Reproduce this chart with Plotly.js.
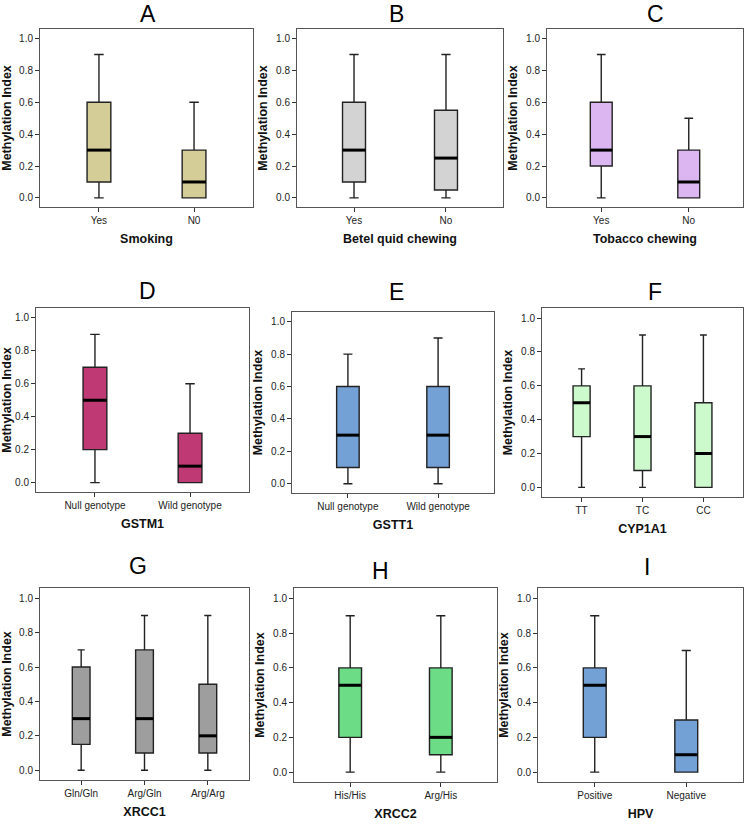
<!DOCTYPE html>
<html>
<head>
<meta charset="utf-8">
<script src="https://cdn.plot.ly/plotly-3.0.1.min.js"></script>
<style>html,body{margin:0;padding:0;background:#fff;}#chart{width:747px;height:828px;}</style>
</head>
<body>
<div id="chart"></div>
<script>
// ---------- DATA ----------
const panelLetters = ['A','B','C','D','E','F','G','H','I'];
const panelTitles = ['Smoking','Betel quid chewing','Tobacco chewing','GSTM1','GSTT1','CYP1A1','XRCC1','XRCC2','HPV'];

const smokingCats = ['Yes','N0'];
const smokingLow  = [0, 0];
const smokingQ1   = [0.1, 0];
const smokingMed  = [0.3, 0.1];
const smokingQ3   = [0.6, 0.3];
const smokingHigh = [0.9, 0.6];

const betelCats = ['Yes','No'];
const betelLow  = [0, 0];
const betelQ1   = [0.1, 0.05];
const betelMed  = [0.3, 0.25];
const betelQ3   = [0.6, 0.55];
const betelHigh = [0.9, 0.9];

const tobaccoCats = ['Yes','No'];
const tobaccoLow  = [0, 0];
const tobaccoQ1   = [0.2, 0];
const tobaccoMed  = [0.3, 0.1];
const tobaccoQ3   = [0.6, 0.3];
const tobaccoHigh = [0.9, 0.5];

const gstm1Cats = ['Null genotype','Wild genotype'];
const gstm1Low  = [0, 0];
const gstm1Q1   = [0.2, 0];
const gstm1Med  = [0.5, 0.1];
const gstm1Q3   = [0.7, 0.3];
const gstm1High = [0.9, 0.6];

const gstt1Cats = ['Null genotype','Wild genotype'];
const gstt1Low  = [0, 0];
const gstt1Q1   = [0.1, 0.1];
const gstt1Med  = [0.3, 0.3];
const gstt1Q3   = [0.6, 0.6];
const gstt1High = [0.8, 0.9];

const cyp1a1Cats = ['TT','TC','CC'];
const cyp1a1Low  = [0, 0, 0];
const cyp1a1Q1   = [0.3, 0.1, 0];
const cyp1a1Med  = [0.5, 0.3, 0.2];
const cyp1a1Q3   = [0.6, 0.6, 0.5];
const cyp1a1High = [0.7, 0.9, 0.9];

const xrcc1Cats = ['Gln/Gln','Arg/Gln','Arg/Arg'];
const xrcc1Low  = [0, 0, 0];
const xrcc1Q1   = [0.15, 0.1, 0.1];
const xrcc1Med  = [0.3, 0.3, 0.2];
const xrcc1Q3   = [0.6, 0.7, 0.5];
const xrcc1High = [0.7, 0.9, 0.9];

const xrcc2Cats = ['His/His','Arg/His'];
const xrcc2Low  = [0, 0];
const xrcc2Q1   = [0.2, 0.1];
const xrcc2Med  = [0.5, 0.2];
const xrcc2Q3   = [0.6, 0.6];
const xrcc2High = [0.9, 0.9];

const hpvCats = ['Positive','Negative'];
const hpvLow  = [0, 0];
const hpvQ1   = [0.2, 0];
const hpvMed  = [0.5, 0.1];
const hpvQ3   = [0.6, 0.3];
const hpvHigh = [0.9, 0.7];

const yTickVals = [0, 0.2, 0.4, 0.6, 0.8, 1.0];
const yTickText = ['0.0','0.2','0.4','0.6','0.8','1.0'];
const yAxisTitle = 'Methylation Index';

// ---------- STYLE / LAYOUT ----------
const W = 747, H = 828;
const fills = ['#d4cd97','#d3d3d3','#dcb6f0','#bf3a74','#73a1d5','#ccfacc','#9e9e9e','#6cdc86','#73a1d5'];
// plot-area pixel boxes [left, right, top, bottom]
const boxes = [
  [40,253,29,207],[297,503,29,207],[547,743,29,207],
  [36,249,308,492],[292,494,312,493],[542,743,308,497],
  [40,249,588,780],[294,497,588,782],[538,743,588,782]
];
const letterPos = [[148,14],[397,14],[655,14],[147,291],[397,292],[655,292],[138,566],[380,571],[647,567]];

const panels = [
  [smokingCats, smokingLow, smokingQ1, smokingMed, smokingQ3, smokingHigh],
  [betelCats, betelLow, betelQ1, betelMed, betelQ3, betelHigh],
  [tobaccoCats, tobaccoLow, tobaccoQ1, tobaccoMed, tobaccoQ3, tobaccoHigh],
  [gstm1Cats, gstm1Low, gstm1Q1, gstm1Med, gstm1Q3, gstm1High],
  [gstt1Cats, gstt1Low, gstt1Q1, gstt1Med, gstt1Q3, gstt1High],
  [cyp1a1Cats, cyp1a1Low, cyp1a1Q1, cyp1a1Med, cyp1a1Q3, cyp1a1High],
  [xrcc1Cats, xrcc1Low, xrcc1Q1, xrcc1Med, xrcc1Q3, xrcc1High],
  [xrcc2Cats, xrcc2Low, xrcc2Q1, xrcc2Med, xrcc2Q3, xrcc2High],
  [hpvCats, hpvLow, hpvQ1, hpvMed, hpvQ3, hpvHigh]
];

const tickFont = {family: 'Liberation Sans Narrow, Arial Narrow, Liberation Sans, Arial, sans-serif', size: 10, color: '#222'};
const titleFont = {family: 'Liberation Sans, Arial, sans-serif', size: 12.5, color: '#111', weight: 'bold'};

const data = [];
const layout = {
  width: W, height: H,
  margin: {l:0, r:0, t:0, b:0},
  paper_bgcolor: '#fff', plot_bgcolor: '#fff',
  showlegend: false,
  annotations: [], shapes: []
};

panels.forEach((p, k) => {
  const [cats, low, q1, med, q3, high] = p;
  const n = cats.length;
  const idx = cats.map((c, i) => i);
  const bw = n === 2 ? 0.25 : 0.28;
  const sfx = k === 0 ? '' : String(k + 1);
  const b = boxes[k];
  data.push({
    type: 'box',
    x: idx,
    lowerfence: low, q1: q1, median: med, q3: q3, upperfence: high,
    width: bw,
    whiskerwidth: 0.4,
    fillcolor: fills[k],
    line: {color: '#222', width: 1.4},
    boxpoints: false,
    hoverinfo: 'skip',
    xaxis: 'x' + sfx, yaxis: 'y' + sfx
  });
  // bold median lines derived from the median array
  med.forEach((m, i) => {
    layout.shapes.push({
      type: 'line', xref: 'x' + sfx, yref: 'y' + sfx,
      x0: i - bw / 2, x1: i + bw / 2, y0: m, y1: m,
      line: {color: '#000', width: 3}
    });
  });
  const xr = n === 2 ? [-0.62, 1.62] : [-0.65, 2.65];
  layout['xaxis' + sfx] = {
    domain: [b[0] / W, b[1] / W],
    anchor: 'y' + sfx,
    range: xr,
    tickvals: idx, ticktext: cats,
    ticks: 'outside', ticklen: 4, tickcolor: '#333', tickwidth: 1,
    showline: true, linecolor: '#555', linewidth: 1, mirror: true,
    showgrid: false, zeroline: false,
    tickfont: tickFont,
    title: {text: panelTitles[k], font: titleFont, standoff: 9},
    fixedrange: true
  };
  layout['yaxis' + sfx] = {
    domain: [1 - b[3] / H, 1 - b[2] / H],
    anchor: 'x' + sfx,
    range: [-0.057, 1.06],
    tickvals: yTickVals, ticktext: yTickText,
    ticks: 'outside', ticklen: 4, tickcolor: '#333', tickwidth: 1,
    showline: true, linecolor: '#555', linewidth: 1, mirror: true,
    showgrid: false, zeroline: false,
    tickfont: tickFont,
    title: {text: yAxisTitle, font: titleFont, standoff: 5},
    fixedrange: true
  };
  layout.annotations.push({
    text: panelLetters[k], xref: 'paper', yref: 'paper',
    x: letterPos[k][0] / W, y: 1 - letterPos[k][1] / H,
    xanchor: 'center', yanchor: 'middle', showarrow: false,
    font: {family: 'Liberation Sans, Arial, sans-serif', size: 23, color: '#000'}
  });
});

Plotly.newPlot('chart', data, layout, {staticPlot: true, displayModeBar: false});
</script>
</body>
</html>
